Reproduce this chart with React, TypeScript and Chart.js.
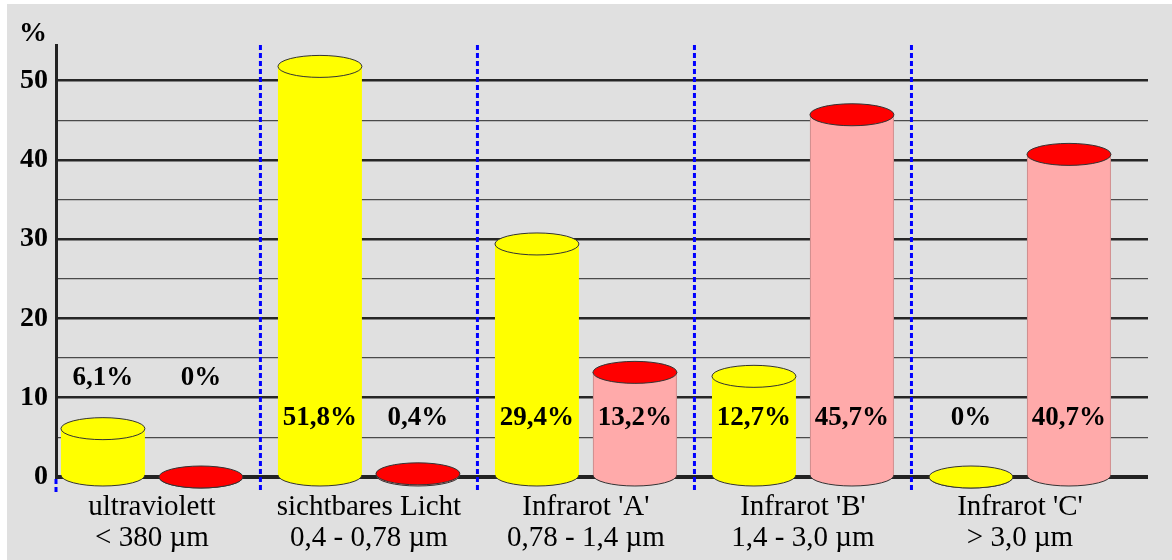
import React, { useEffect, useRef } from "react";
import { Chart, registerables } from "chart.js";

Chart.register(...registerables);

// ---- data ----
const categories: string[][] = [
  ["ultraviolett", "< 380 µm"],
  ["sichtbares Licht", "0,4 - 0,78 µm"],
  ["Infrarot 'A'", "0,78 - 1,4 µm"],
  ["Infrarot 'B'", "1,4 - 3,0 µm"],
  ["Infrarot 'C'", "> 3,0 µm"],
];
const yellowValues: number[] = [6.1, 51.8, 29.4, 12.7, 0];
const redValues: number[] = [0, 0.4, 13.2, 45.7, 40.7];
const yTickStep = 5;
const yMajorStep = 10;
const yMax = 54.5;
const axisTitle = "%";

const FONT = "'Liberation Serif', 'Times New Roman', serif";

const seriesStyles = [
  { body: "#ffff00", top: "#ffff00", side: "" },
  { body: "#ffaaaa", top: "#ff0000", side: "rgba(170,120,120,0.55)" },
];

function fmt(v: number): string {
  if (v === 0) return "0%";
  return v.toFixed(1).replace(".", ",") + "%";
}

const cylinderPlugin = {
  id: "cylinders",
  beforeDraw(chart: any) {
    const ctx = chart.ctx;
    ctx.save();
    ctx.fillStyle = "#ffffff";
    ctx.fillRect(0, 0, chart.width, chart.height);
    ctx.fillStyle = "#e0e0e0";
    ctx.fillRect(7, 4, chart.width - 7, chart.height - 4);
    ctx.restore();
  },
  afterDatasetsDraw(chart: any) {
    const ctx = chart.ctx;
    const area = chart.chartArea;
    const xs = chart.scales.x;
    const ys = chart.scales.y;
    ctx.save();
    // cylinders
    chart.data.datasets.forEach((_ds: any, di: number) => {
      const st = seriesStyles[di];
      const meta = chart.getDatasetMeta(di);
      meta.data.forEach((el: any) => {
        const { x, y, base, width } = el.getProps(["x", "y", "base", "width"], true);
        const rx = width / 2;
        const ry = 11;
        ctx.fillStyle = st.body;
        ctx.fillRect(x - rx, y, width, base - y);
        ctx.beginPath();
        ctx.ellipse(x, base, rx, ry, 0, 0, Math.PI);
        ctx.closePath();
        ctx.fill();
        ctx.beginPath();
        ctx.ellipse(x, base, rx, ry, 0, 0, Math.PI);
        ctx.strokeStyle = "#333";
        ctx.lineWidth = 1;
        ctx.stroke();
        if (st.side && base - y > 0.5) {
          ctx.beginPath();
          ctx.moveTo(x - rx + 0.5, y);
          ctx.lineTo(x - rx + 0.5, base);
          ctx.moveTo(x + rx - 0.5, y);
          ctx.lineTo(x + rx - 0.5, base);
          ctx.strokeStyle = st.side;
          ctx.stroke();
        }
        ctx.beginPath();
        ctx.ellipse(x, y, rx, ry, 0, 0, Math.PI * 2);
        ctx.fillStyle = st.top;
        ctx.fill();
        ctx.strokeStyle = "#333";
        ctx.lineWidth = 1;
        ctx.stroke();
      });
    });

    // separators
    ctx.strokeStyle = "#0000ff";
    ctx.lineWidth = 3;
    ctx.setLineDash([5, 3]);
    const sepBottom = ys.getPixelForValue(0) + 16;
    ctx.beginPath();
    ctx.moveTo(area.left, ys.getPixelForValue(0) + 2);
    ctx.lineTo(area.left, sepBottom);
    for (let i = 0; i < categories.length - 1; i++) {
      const px = xs.getPixelForValue(i + 0.5);
      ctx.moveTo(px, area.top);
      ctx.lineTo(px, sepBottom);
    }
    ctx.stroke();
    ctx.setLineDash([]);

    // value labels
    ctx.fillStyle = "#000";
    ctx.font = `bold 27px ${FONT}`;
    ctx.textAlign = "center";
    ctx.textBaseline = "middle";
    const series = [yellowValues, redValues];
    for (let i = 0; i < categories.length; i++) {
      const vals = series.map((s) => s[i]);
      const low = vals.some((v) => v > 1 && v < 11);
      const level = low ? 12.5 : 7.5;
      const ly = ys.getPixelForValue(level);
      series.forEach((s, di) => {
        const el = chart.getDatasetMeta(di).data[i];
        ctx.fillText(fmt(s[i]), el.x, ly);
      });
    }

    // axis title
    ctx.font = `bold 28px ${FONT}`;
    ctx.fillText(axisTitle, 33, 34);
    ctx.restore();
  },
};

export default function App() {
  const canvasRef = useRef<HTMLCanvasElement | null>(null);

  useEffect(() => {
    const canvas = canvasRef.current;
    if (!canvas) return;
    const chart = new Chart(canvas, {
      type: "bar",
      data: {
        datasets: [
          {
            label: "A",
            data: yellowValues.map((v, i) => ({ x: i, y: v })),
            backgroundColor: "rgba(0,0,0,0)",
            borderWidth: 0,
          },
          {
            label: "B",
            data: redValues.map((v, i) => ({ x: i, y: v })),
            backgroundColor: "rgba(0,0,0,0)",
            borderWidth: 0,
          },
        ],
      },
      options: {
        animation: false,
        responsive: true,
        maintainAspectRatio: false,
        events: [],
        layout: { padding: { left: 0, right: 24, top: 45, bottom: 0 } },
        datasets: {
          bar: { categoryPercentage: 0.903, barPercentage: 0.857 },
        },
        plugins: {
          legend: { display: false },
          tooltip: { enabled: false },
          title: { display: false },
        },
        scales: {
          x: {
            type: "linear",
            offset: false,
            min: -0.442,
            max: 4.59,
            afterFit: (s: any) => {
              s.height = 83;
            },
            grid: { display: false },
            border: { display: false },
            ticks: {
              stepSize: 1,
              includeBounds: false,
              autoSkip: false,
              maxRotation: 0,
              minRotation: 0,
              padding: 6,
              color: "#000",
              font: { family: FONT, size: 29, lineHeight: 1.1 },
              callback: (v: any) =>
                Number.isInteger(v) && categories[v] ? categories[v] : "",
            },
          },
          y: {
            type: "linear",
            min: 0,
            max: yMax,
            afterFit: (s: any) => {
              s.width = 56;
            },
            border: { display: true, color: "#222", width: 3 },
            grid: {
              drawTicks: false,
              color: (c: any) => {
                const v = c.tick ? c.tick.value : 0;
                if (v === 0) return "#222";
                return v % yMajorStep === 0 ? "#262626" : "#4a4a4a";
              },
              lineWidth: (c: any) => {
                const v = c.tick ? c.tick.value : 0;
                if (v === 0) return 4;
                return v % yMajorStep === 0 ? 2.6 : 1.3;
              },
            },
            ticks: {
              stepSize: yTickStep,
              includeBounds: false,
              padding: 8,
              color: "#000",
              font: { family: FONT, size: 28, weight: "bold" },
              callback: (v: any) => (v % yMajorStep === 0 ? String(v) : ""),
            },
          },
        },
      },
      plugins: [cylinderPlugin],
    } as any);
    return () => chart.destroy();
  }, []);

  return (
    <div style={{ position: "fixed", left: 0, top: 0, width: 1172, height: 560 }}>
      <canvas ref={canvasRef} />
    </div>
  );
}
